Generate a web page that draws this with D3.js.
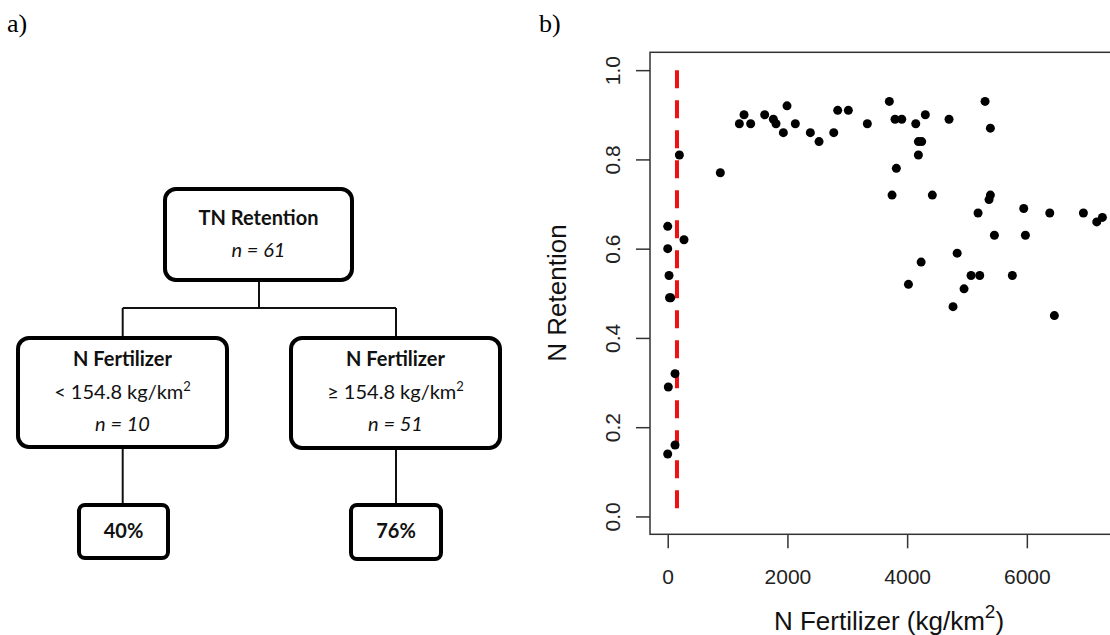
<!DOCTYPE html>
<html>
<head>
<meta charset="utf-8">
<script src="https://cdn.jsdelivr.net/npm/d3@7"></script>
<style>
  body { margin: 0; background: #fff; }
  svg { display: block; }
</style>
</head>
<body>
<main></main>
<script>
// panel b) data
const fertilizer = [0, 0, 22, 30, 50, 122, 10, 122, 0,
  195, 272, 879, 1197, 1275, 1386, 1620, 1765, 1809, 1932, 1993, 2132, 2383, 2528, 2774, 2840,
  3018, 3335, 3703, 3798, 3910, 4144, 4304, 4188, 4243, 4188, 4700, 5302, 5391,
  3820, 3748, 4421, 5391, 5368, 5185, 5948, 6383, 6945, 7168, 7262,
  5458, 5976, 4836, 4234, 5068, 5213, 5758, 4022, 4951, 4767, 6460]
const retention = [0.65, 0.60, 0.54, 0.49, 0.49, 0.32, 0.29, 0.16, 0.14,
  0.81, 0.62, 0.77, 0.88, 0.90, 0.88, 0.90, 0.89, 0.88, 0.86, 0.92, 0.88, 0.86, 0.84, 0.86, 0.91,
  0.91, 0.88, 0.93, 0.89, 0.89, 0.88, 0.90, 0.84, 0.84, 0.81, 0.89, 0.93, 0.87,
  0.78, 0.72, 0.72, 0.72, 0.71, 0.68, 0.69, 0.68, 0.68, 0.66, 0.67,
  0.63, 0.63, 0.59, 0.57, 0.54, 0.54, 0.54, 0.52, 0.51, 0.47, 0.45]
const xTicks = [0, 2000, 4000, 6000]
const yTicks = [0, 0.2, 0.4, 0.6, 0.8, 1.0]
const splitValue = 154.8

// panel a) tree
const nodeTitles = ['TN Retention', 'N Fertilizer', 'N Fertilizer']
const nodeRules = ['', '<', '≥']
const nodeCounts = [61, 10, 51]
const leafLabels = ['40%', '76%']

const width = 1110
const height = 635
const treeFont = 'Lato, "Open Sans", sans-serif'
const plotFont = '"Liberation Sans", Arial, sans-serif'

const svg = d3.select('main')
  .append('svg')
  .attr('width', width)
  .attr('height', height)

svg.append('text').attr('x', 7).attr('y', 32)
  .style('font-family', '"Liberation Serif", serif').style('font-size', '26px')
  .text('a)')
svg.append('text').attr('x', 539).attr('y', 32)
  .style('font-family', '"Liberation Serif", serif').style('font-size', '26px')
  .text('b)')

// ---------- tree ----------
const nodeBoxes = [
  {x0: 163, x1: 354, y0: 187, y1: 282},
  {x0: 16, x1: 229, y0: 336, y1: 449},
  {x0: 289, x1: 502, y0: 336, y1: 450}
]
const leafBoxes = [
  {x0: 77, x1: 170, y0: 503, y1: 560},
  {x0: 349, x1: 443, y0: 503, y1: 561}
]

const tree = svg.append('g')

const connectors = [
  [[259, 282], [259, 308]],
  [[122.7, 308], [396, 308]],
  [[122.7, 308], [122.7, 336]],
  [[396, 308], [396, 336]],
  [[122.7, 449], [122.7, 503]],
  [[396, 450], [396, 503]]
]
tree.selectAll('line.conn')
  .data(connectors)
  .enter()
  .append('line')
  .attr('class', 'conn')
  .attr('x1', d => d[0][0]).attr('y1', d => d[0][1])
  .attr('x2', d => d[1][0]).attr('y2', d => d[1][1])
  .attr('stroke', '#111')
  .attr('stroke-width', 2)

const drawBox = (b, r) => tree.append('rect')
  .attr('x', b.x0 + 2).attr('y', b.y0 + 2)
  .attr('width', b.x1 - b.x0 - 4).attr('height', b.y1 - b.y0 - 4)
  .attr('rx', r).attr('ry', r)
  .attr('fill', '#fff')
  .attr('stroke', '#000')
  .attr('stroke-width', 4)

const treeText = (x, y) => tree.append('text')
  .attr('x', x).attr('y', y)
  .attr('text-anchor', 'middle')
  .style('font-family', treeFont)
  .style('font-size', '20px')
  .style('fill', '#111')

nodeBoxes.forEach((b, i) => {
  drawBox(b, 11)
  const cx = (b.x0 + b.x1) / 2
  const base = i === 0 ? [225, 257] : [365.5, 398.5, 431]
  treeText(cx, base[0]).style('font-weight', 'bold').text(nodeTitles[i])
  if (nodeRules[i]) {
    const t = treeText(cx, base[1])
    t.append('tspan').text(nodeRules[i] + ' ' + splitValue + ' kg/km')
    t.append('tspan').attr('dy', -8).style('font-size', '13px').text('2')
  }
  treeText(cx, base[base.length - 1]).style('font-style', 'italic').text('n = ' + nodeCounts[i])
})

leafBoxes.forEach((b, i) => {
  drawBox(b, 6)
  treeText((b.x0 + b.x1) / 2, 538).style('font-weight', 'bold').text(leafLabels[i])
})

// ---------- scatter ----------
const xScale = d3.scaleLinear().domain([-296, 7690]).range([650, 1128])
const yScale = d3.scaleLinear().domain([-0.04, 1.04]).range([534.3, 52.3])

const plot = svg.append('g')

plot.append('rect')
  .attr('x', 650).attr('y', 52.3)
  .attr('width', 478).attr('height', 482)
  .attr('fill', 'none')
  .attr('stroke', '#333')
  .attr('stroke-width', 1.5)

const xAxis = plot.append('g')
  .attr('transform', 'translate(0,534.3)')
  .call(d3.axisBottom(xScale).tickValues(xTicks).tickSize(14).tickPadding(21).tickFormat(d3.format('d')))
const yAxis = plot.append('g')
  .attr('transform', 'translate(650,0)')
  .call(d3.axisLeft(yScale).tickValues(yTicks).tickSize(14).tickFormat(d3.format('.1f')))

;[xAxis, yAxis].forEach(a => {
  a.select('.domain').remove()
  a.selectAll('line').attr('stroke', '#333').attr('stroke-width', 1.5)
  a.selectAll('text')
    .style('font-family', plotFont)
    .style('font-size', '21px')
    .attr('fill', '#222')
})
yAxis.selectAll('text')
  .attr('x', null).attr('dy', null)
  .attr('text-anchor', 'middle')
  .attr('transform', 'translate(-30,0) rotate(-90)')

plot.append('line')
  .attr('x1', xScale(splitValue)).attr('x2', xScale(splitValue))
  .attr('y1', yScale(1)).attr('y2', yScale(0))
  .attr('stroke', '#ee1111')
  .attr('stroke-width', 4)
  .attr('stroke-dasharray', '18,12')

plot.selectAll('circle')
  .data(fertilizer)
  .enter()
  .append('circle')
  .attr('cx', d => xScale(d))
  .attr('cy', (d, i) => yScale(retention[i]))
  .attr('r', 4.5)
  .attr('fill', '#000')

plot.append('text')
  .attr('transform', 'translate(566,293) rotate(-90)')
  .attr('text-anchor', 'middle')
  .style('font-family', plotFont)
  .style('font-size', '26px')
  .attr('fill', '#111')
  .text('N Retention')

const xTitle = plot.append('text')
  .attr('x', 889).attr('y', 630)
  .attr('text-anchor', 'middle')
  .style('font-family', plotFont)
  .style('font-size', '26px')
  .attr('fill', '#111')
xTitle.append('tspan').text('N Fertilizer (kg/km')
xTitle.append('tspan').attr('dy', -12).style('font-size', '19px').text('2')
xTitle.append('tspan').attr('dy', 12).text(')')
</script>
</body>
</html>
